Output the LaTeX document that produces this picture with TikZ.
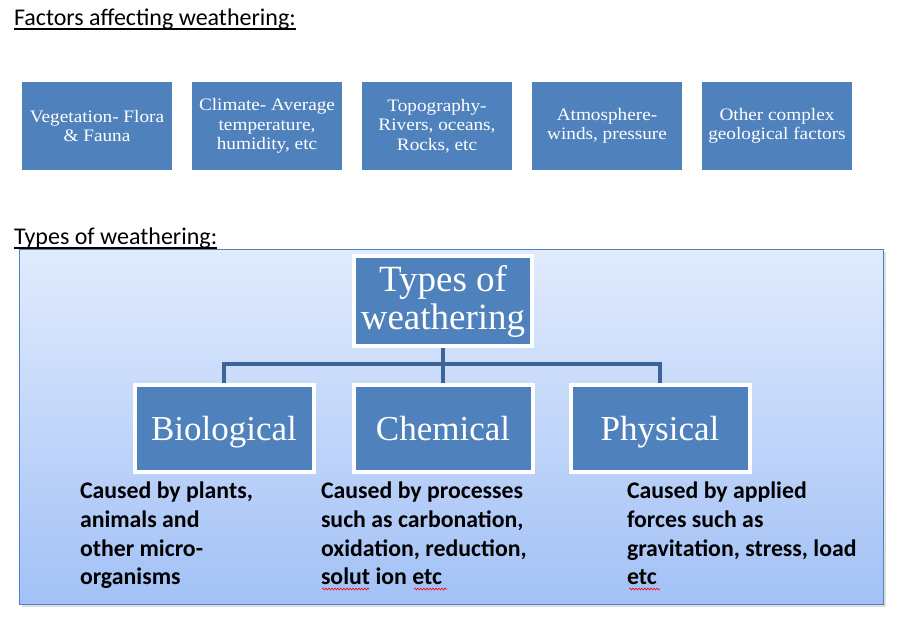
\documentclass[tikz,border=0pt]{standalone}
\usepackage{fontspec}
\setmainfont{Carlito}
\newfontfamily\boxfont[FakeStretch=1.1]{Liberation Serif}
\newfontfamily\treefont{Liberation Serif}
\usepackage{xcolor}
\definecolor{boxblue}{RGB}{79,129,189}
\definecolor{linkblue}{RGB}{60,100,150}
\definecolor{panetop}{RGB}{225,235,253}
\definecolor{panemid}{RGB}{205,221,250}
\definecolor{panebot}{RGB}{162,193,246}
\usepackage{tikz}
\usetikzlibrary{positioning}
\usetikzlibrary{shadows}
\usetikzlibrary{decorations.pathmorphing}

\begin{document}
\begin{tikzpicture}[x=1pt,y=-1pt,align=center,every node/.style={inner sep=0,outer sep=0},
    factor/.style={fill=boxblue,text=white,minimum width=150pt,minimum height=88pt,font=\boxfont\fontsize{17.5}{19.5}\selectfont},
    kind/.style={fill=boxblue,draw=white,line width=4pt,text=white,minimum width=179pt,minimum height=87pt,
        font=\treefont\fontsize{35}{38}\selectfont},
    leaf/.style={kind,text height=28pt,text depth=5pt},
    cause/.style={anchor=north west,align=left,font=\bfseries\fontsize{23.8}{28.7}\selectfont},
    heading/.style={anchor=base west,font=\fontsize{24}{28}\selectfont},
    link/.style={draw=linkblue,line width=3.5pt,shorten <=2pt,shorten >=2pt},
    squiggle/.style={red,line width=0.6pt,decorate,decoration={snake,amplitude=0.9pt,segment length=3pt}}]
    \useasboundingbox (0,0) rectangle (903,621);
    \node[heading] (FH) at (14,25) {Factors affecting weathering:};
    \draw[line width=1.3pt] ([yshift=-4pt]FH.base west) -- ([yshift=-4pt]FH.base east);
    \node[factor] (F1) at (97,126) {Vegetation- Flora\\\& Fauna};
    \node[factor] (F2) [right=20pt of F1] {Climate- Average\\temperature,\\humidity, etc};
    \node[factor] (F3) [right=20pt of F2] {Topography-\\Rivers, oceans,\\Rocks, etc};
    \node[factor] (F4) [right=20pt of F3] {Atmosphere-\\winds, pressure};
    \node[factor] (F5) [right=20pt of F4] {Other complex\\geological factors};
    \node[heading] (TH) at (14,244) {Types of weathering:};
    \draw[line width=1.3pt] ([yshift=-4pt]TH.base west) -- ([yshift=-4pt]TH.base east);
    \node[draw=boxblue,line width=0.8pt,top color=panetop,middle color=panemid,bottom color=panebot,
          minimum width=864pt,minimum height=355pt,
          drop shadow={shadow xshift=3pt,shadow yshift=-3pt,opacity=0.25}] (pane) at (451,426.5) {};
    \node[kind,minimum width=178pt,minimum height=90pt,font=\treefont\fontsize{37}{38}\selectfont] (root) at (443,301) {Types of\\weathering};
    \node[leaf] (chem) [below=39pt of root] {Chemical};
    \node[leaf] (bio) [left=40pt of chem] {Biological};
    \node[leaf] (phys) [right=38pt of chem] {Physical};
    \draw[link] (root.south) -- ++(0,18) -| (bio.north);
    \draw[link] (root.south) -- (chem.north);
    \draw[link] (root.south) -- ++(0,18) -| (phys.north);
    \node[cause] (biotext) at (80,482) {Caused by plants,\\animals and\\other micro-\\organisms};
    \node[cause] (chemtext) at (321,482) {Caused by processes\\such as carbonation,\\oxidation, reduction,\\solut ion etc};
    \node[cause] (phystext) at (627,482) {Caused by applied\\forces such as\\gravitation, stress, load\\etc};
    \draw[squiggle] (322,589) -- (369,589);
    \draw[squiggle] (414,589) -- (447,589);
    \draw[squiggle] (629,589) -- (660,589);
\end{tikzpicture}
\end{document}
